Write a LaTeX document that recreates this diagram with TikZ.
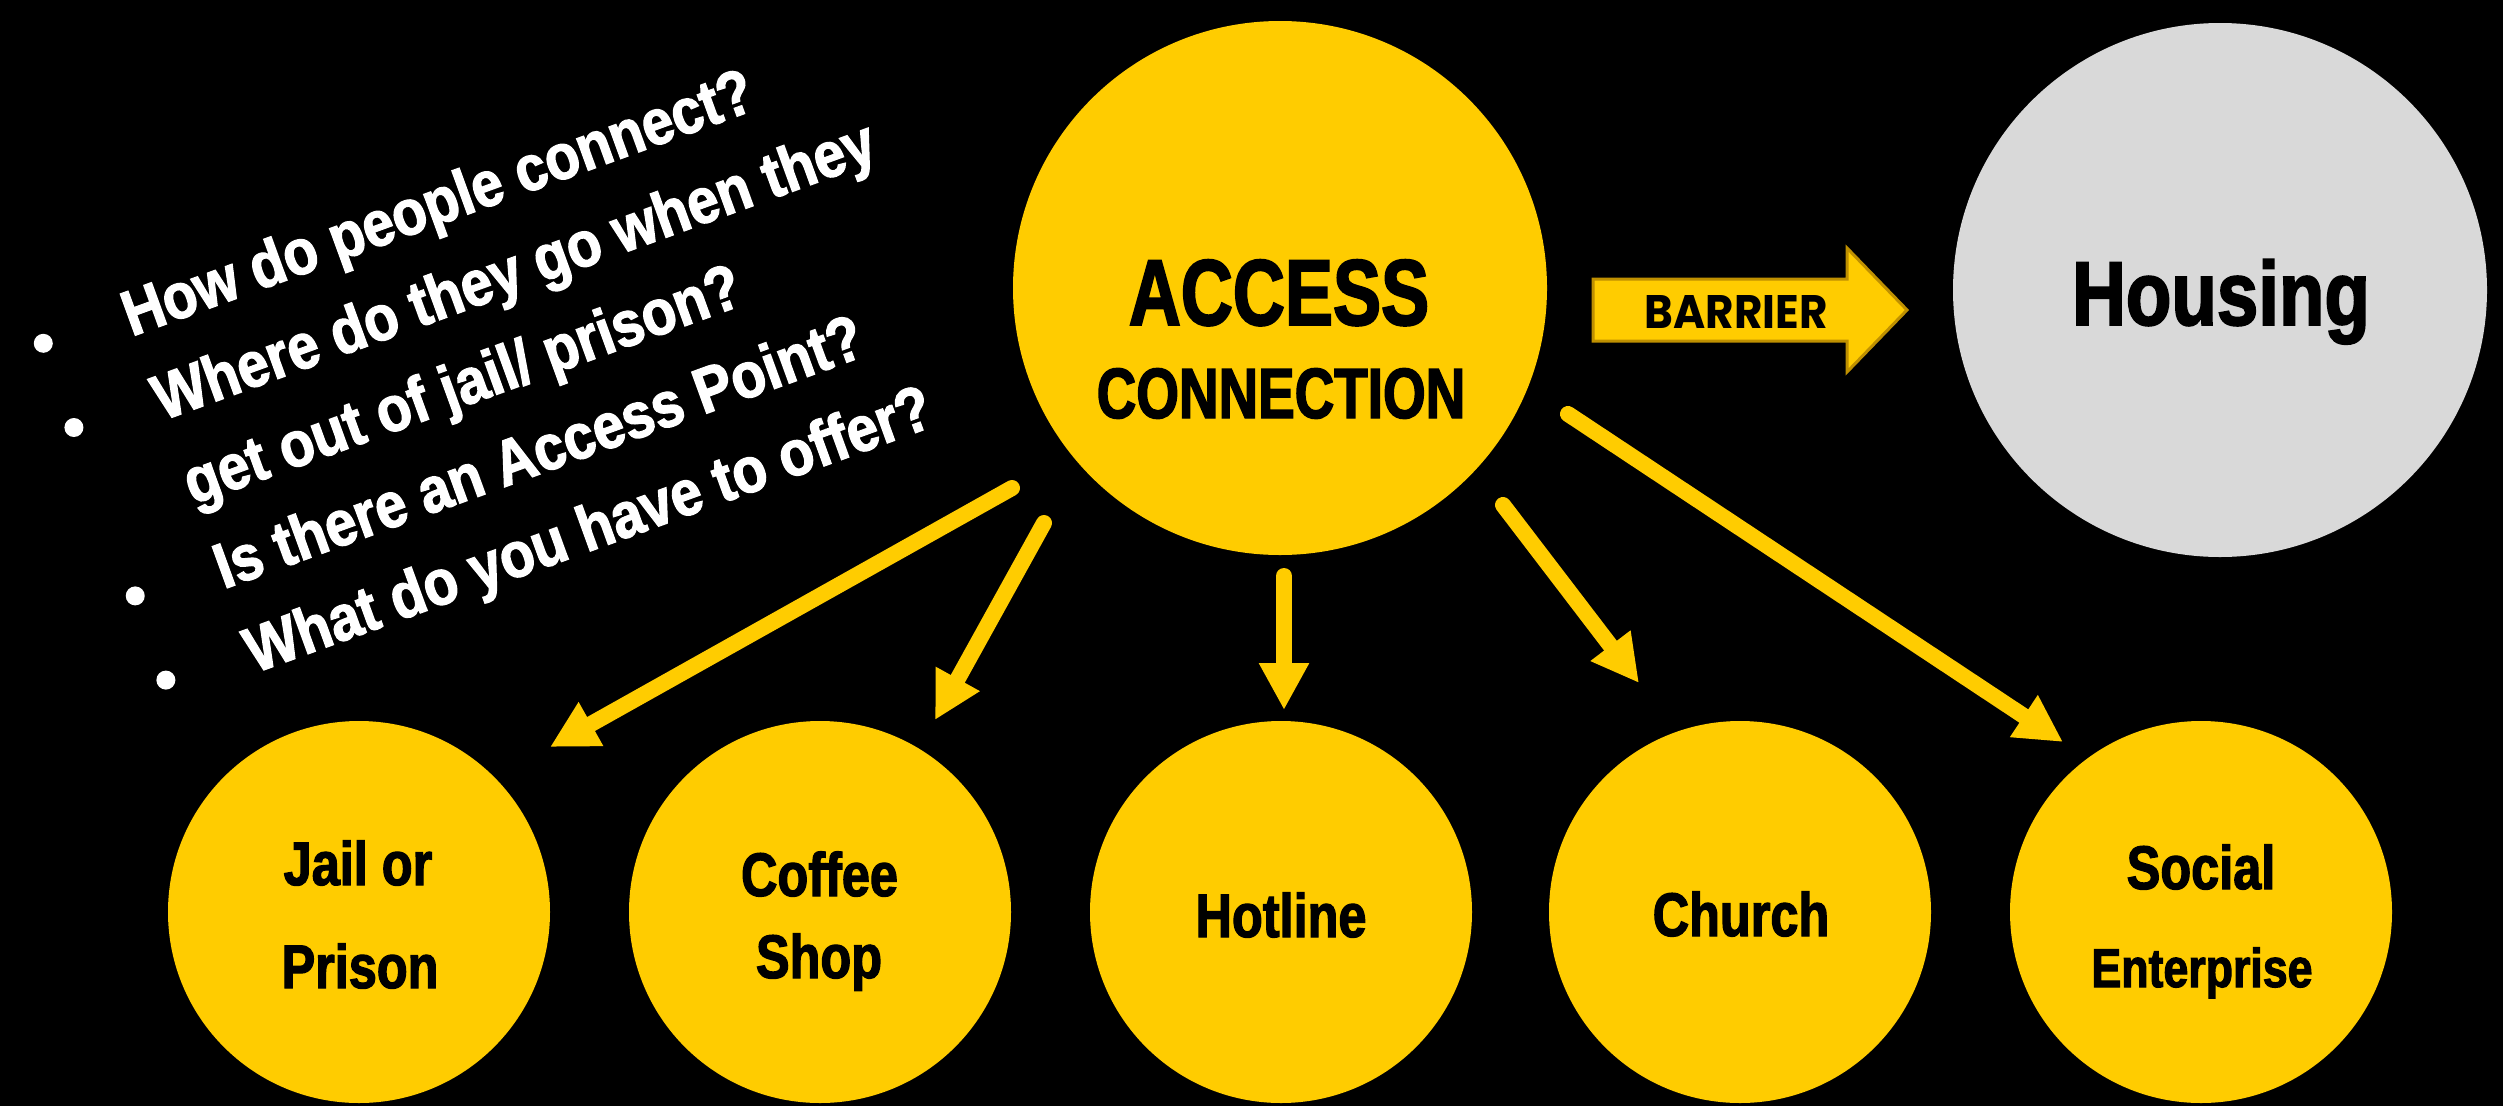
\documentclass[tikz,border=0pt]{standalone}
\usepackage{fontspec}
\usetikzlibrary{arrows.meta}
\newfontfamily\fA[FakeStretch=0.77,FakeBold=2]{Liberation Sans}
\newfontfamily\fB[FakeStretch=0.82,FakeBold=2]{Liberation Sans}
\newfontfamily\fC[FakeStretch=0.88,FakeBold=2]{Liberation Sans}
\newfontfamily\fD[FakeStretch=0.93]{Poppins}
\definecolor{gold}{RGB}{255,204,0}
\definecolor{goldedge}{RGB}{191,144,0}
\definecolor{house}{RGB}{217,217,217}
\begin{document}
\begin{tikzpicture}[x=1pt,y=-1pt,
  bigc/.style={circle, fill=gold, minimum size=534pt, inner sep=0pt},
  smallc/.style={circle, fill=gold, minimum size=382pt, inner sep=0pt},
  lbl/.style={anchor=base, inner sep=0pt, text=black, font=\fB\bfseries\fontsize{61.5}{61.5}\selectfont},
  conn/.style={draw=gold, line width=16pt, line cap=round, -{Triangle[width=47pt,length=47pt]}},
  q/.style={anchor=base west, inner sep=0pt, rotate=20, text=white, font=\fC\bfseries\fontsize{64}{64}\selectfont},
  bul/.style={circle, fill=white, minimum size=19pt, inner sep=0pt}
]
\path[use as bounding box, fill=black] (0,0) rectangle (2503,1106);

% main circles
\node[bigc] (acc) at (1280,288) {};
\node[bigc, fill=house] (hous) at (2220,290) {};
\node[anchor=base, inner sep=0pt, font=\fA\bfseries\fontsize{93.6}{93.6}\selectfont] (accT) at (1279,325) {ACCESS};
\node[anchor=base, inner sep=0pt, font=\fA\bfseries\fontsize{71.2}{71.2}\selectfont] (conT) at (1281,418) {CONNECTION};
\node[anchor=base, inner sep=0pt, font=\fB\bfseries\fontsize{90.8}{90.8}\selectfont] (housT) at (2221,325) {Housing};

% barrier arrow
\draw[fill=gold, draw=goldedge, line width=3pt, line join=miter] (1593,279) -- (1847,279) -- (1847,248) -- (1907,310) -- (1847,372) -- (1847,341) -- (1593,341) -- cycle;
\node[font=\fD\bfseries\fontsize{47}{47}\selectfont, anchor=base, inner sep=0pt] (barT) at (1736,328) {BARRIER};

% small circles
\node[smallc] (jail) at (359,912) {};
\node[smallc] (coffee) at (820,912) {};
\node[smallc] (hotline) at (1281,912) {};
\node[smallc] (church) at (1740,912) {};
\node[smallc] (social) at (2201,912) {};

\node[lbl] (jailA) at (358,885) {Jail or};
\node[lbl] (jailB) at (360,988) {Prison};
\node[lbl] (cofA) at (819.5,896) {Coffee};
\node[lbl] (cofB) at (819,978) {Shop};
\node[lbl] (hotA) at (1281,937) {Hotline};
\node[lbl] (chA) at (1741,936) {Church};
\node[lbl] (soA) at (2201,889) {Social};
\node[lbl, font=\fB\bfseries\fontsize{54.5}{54.5}\selectfont] (soB) at (2202,987) {Enterprise};

% connectors
\coordinate (s1) at (1012,488); \coordinate (e1) at (550,747);
\coordinate (s2) at (1044,523); \coordinate (e2) at (935,720);
\coordinate (s3) at (1284,576); \coordinate (e3) at (1284,710);
\coordinate (s4) at (1503,505); \coordinate (e4) at (1639,683);
\coordinate (s5) at (1568,414); \coordinate (e5) at (2063,742);
\draw[conn] (s1) -- (e1);
\draw[conn] (s2) -- (e2);
\draw[conn] (s3) -- (e3);
\draw[conn] (s4) -- (e4);
\draw[conn] (s5) -- (e5);

% rotated question list
\begin{scope}[shift={(43.3,343.3)}, rotate=20]
  \node[bul] (b1) at (0,0) {};
  \node[bul] (b2) at (0,89.6) {};
  \node[bul] (b3) at (0,268.8) {};
  \node[bul] (b4) at (0,358.4) {};
  \node[q] (q1) at (85.3,24) {How do people connect?};
  \node[q] (q2) at (85.3,113.6) {Where do they go when they};
  \node[q] (q3) at (85.3,203.2) {get out of jail/ prison?};
  \node[q] (q4) at (85.3,292.8) {Is there an Access Point?};
  \node[q] (q5) at (85.3,382.4) {What do you have to offer?};
\end{scope}
\end{tikzpicture}
\end{document}
